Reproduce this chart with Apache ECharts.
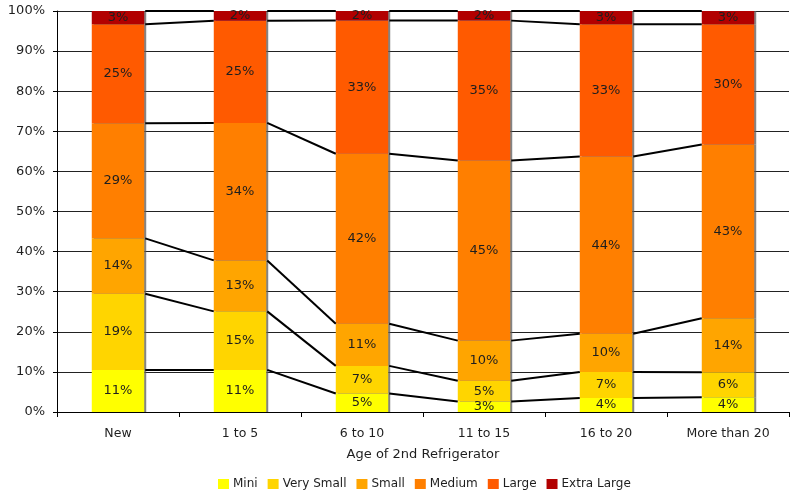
<!DOCTYPE html>
<html>
<head>
<meta charset="utf-8">
<script src="https://cdn.jsdelivr.net/npm/echarts@6/dist/echarts.min.js"></script>
<style>
  html, body { margin: 0; padding: 0; background: #fff; }
  #chart { width: 796px; height: 499px; }
</style>
</head>
<body>
<div id="chart"></div>
<script>
// Share of second refrigerators by size, per age group (percent of each column)
const categories = ['New', '1 to 5', '6 to 10', '11 to 15', '16 to 20', 'More than 20'];
const seriesNames = ['Mini', 'Very Small', 'Small', 'Medium', 'Large', 'Extra Large'];
const mini       = [10.5, 10.5,  4.6,  2.6,  3.5,  3.7];
const verySmall  = [19.0, 14.6,  6.9,  5.2,  6.5,  6.2];
const small      = [13.8, 12.7, 10.5, 10.0,  9.5, 13.5];
const medium     = [28.7, 34.3, 42.4, 44.9, 44.2, 43.3];
const large      = [24.7, 25.45, 33.2, 34.9, 33.0, 30.0];
const extraLarge = [3.3,  2.45,  2.4,  2.4,  3.3,  3.3];

const seriesValues = [mini, verySmall, small, medium, large, extraLarge];
const colors = ['#FFFF00', '#FFD500', '#FFA500', '#FF7F00', '#FF5A00', '#B20000'];

const FONT = 'DejaVu Sans';
const TEXT = '#1e1e1e';
const BAR_FRAC = 0.43;

// cumulative tops of each stacked segment, used for the connecting series lines
const connectorData = [];
for (let i = 0; i < categories.length - 1; i++) {
  for (let k = 0; k < seriesValues.length; k++) {
    let cumA = 0, cumB = 0;
    for (let j = 0; j <= k; j++) { cumA += seriesValues[j][i]; cumB += seriesValues[j][i + 1]; }
    connectorData.push([i, cumA, cumB]);
  }
}

const barSeries = seriesNames.map((name, k) => ({
  name: name,
  type: 'bar',
  stack: 'total',
  barWidth: (BAR_FRAC * 100) + '%',
  data: seriesValues[k],
  itemStyle: {
    color: colors[k],
    shadowColor: 'rgba(90,90,90,0.75)',
    shadowOffsetX: 2,
    shadowOffsetY: 0,
    shadowBlur: 0
  },
  label: {
    show: true,
    position: 'inside',
    color: TEXT,
    fontFamily: FONT,
    fontSize: 13,
    formatter: p => Math.round(p.value) + '%'
  },
  z: 3
}));

const chart = echarts.init(document.getElementById('chart'), null, { renderer: 'canvas' });
chart.setOption({
  animation: false,
  backgroundColor: '#fff',
  color: colors,
  grid: { left: 57, right: 7, top: 11, bottom: 87, containLabel: false },
  legend: {
    data: seriesNames,
    left: 213,
    top: 473,
    icon: 'rect',
    itemWidth: 11,
    itemHeight: 10,
    itemGap: 10,
    textStyle: { fontFamily: FONT, fontSize: 12, color: TEXT, padding: [0, 0, 0, -1] }
  },
  xAxis: {
    type: 'category',
    data: categories,
    name: 'Age of 2nd Refrigerator',
    nameLocation: 'middle',
    nameGap: 36,
    nameTextStyle: { fontFamily: FONT, fontSize: 13, color: TEXT },
    axisLine: { lineStyle: { color: '#000', width: 1 } },
    axisTick: { show: true, length: 5, lineStyle: { color: '#000' } },
    axisLabel: { fontFamily: FONT, fontSize: 12.5, color: TEXT, margin: 15 },
    splitLine: { show: false }
  },
  yAxis: {
    type: 'value',
    min: 0,
    max: 100,
    interval: 10,
    axisLine: { show: true, lineStyle: { color: '#000', width: 1 } },
    axisTick: { show: true, length: 4, lineStyle: { color: '#000' } },
    axisLabel: { fontFamily: FONT, fontSize: 13, color: TEXT, formatter: '{value}%', margin: 12 },
    splitLine: { show: true, lineStyle: { color: '#222', width: 1 } }
  },
  series: barSeries.concat([{
    name: 'series lines',
    type: 'custom',
    silent: true,
    z: 4,
    data: connectorData,
    encode: { x: 0, y: 1 },
    renderItem: (params, api) => {
      const i = api.value(0);
      const band = api.size([1, 0])[0];
      const half = band * BAR_FRAC / 2;
      const p0 = api.coord([i, api.value(1)]);
      const p1 = api.coord([i + 1, api.value(2)]);
      return {
        type: 'line',
        shape: { x1: p0[0] + half + 1, y1: p0[1], x2: p1[0] - half, y2: p1[1] },
        style: { stroke: '#000', lineWidth: 2 }
      };
    }
  }])
});
</script>
</body>
</html>
